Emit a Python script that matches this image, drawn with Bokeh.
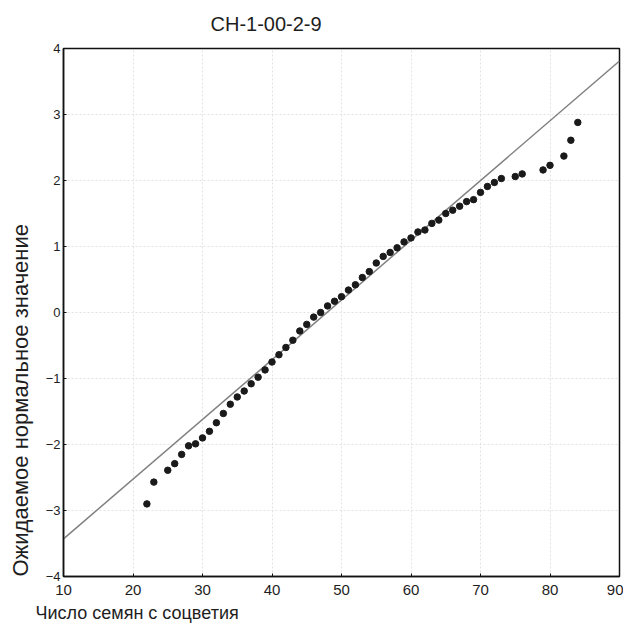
from bokeh.plotting import figure
from bokeh.models import Range1d, LinearAxis, FixedTicker, Title
from bokeh.embed import file_html
from bokeh.resources import INLINE

# Data
seeds = [22, 23, 25, 26, 27, 28, 29, 30, 31, 32, 33, 34, 35, 36, 37, 38, 39, 40,
         41, 42, 43, 44, 45, 46, 47, 48, 49, 50, 51, 52, 53, 54, 55, 56, 57, 58,
         59, 60, 61, 62, 63, 64, 65, 66, 67, 68, 69, 70, 71, 72, 73, 75, 76, 79,
         80, 82, 83, 84]
expected = [-2.90, -2.57, -2.39, -2.29, -2.15, -2.02, -1.99, -1.90, -1.80, -1.67,
            -1.53, -1.39, -1.28, -1.19, -1.08, -0.98, -0.87, -0.75, -0.64, -0.53,
            -0.42, -0.28, -0.18, -0.07, 0.00, 0.10, 0.17, 0.24, 0.34, 0.42,
            0.53, 0.62, 0.75, 0.85, 0.91, 0.98, 1.07, 1.13, 1.22, 1.25,
            1.35, 1.40, 1.50, 1.55, 1.61, 1.68, 1.71, 1.82, 1.91, 1.97,
            2.03, 2.06, 2.10, 2.16, 2.23, 2.37, 2.61, 2.88]
fit_x = [10, 90]
fit_y = [-3.43, 3.81]
x_ticks = [10, 20, 30, 40, 50, 60, 70, 80, 90]
y_ticks = [-4, -3, -2, -1, 0, 1, 2, 3, 4]

title_text = "CH-1-00-2-9"
x_label = "Число семян с соцветия"
y_label = "Ожидаемое нормальное значение"

FONT = "Liberation Sans"
TXT = "#1e1e1e"

p = figure(frame_width=556, frame_height=528,
           x_range=Range1d(10, 90), y_range=Range1d(-4, 4),
           output_backend="svg", toolbar_location=None,
           min_border_left=63, min_border_right=4, min_border_top=48, min_border_bottom=57,
           x_axis_location=None, y_axis_location=None)
p.background_fill_color = "white"
p.border_fill_color = "white"
p.outline_line_color = "#111111"
p.outline_line_width = 1.5

def style_axis(ax):
    ax.axis_line_color = "#111111"
    ax.axis_line_width = 1.5
    ax.major_tick_in = 3
    ax.major_tick_out = 0
    ax.major_tick_line_color = "#111111"
    ax.minor_tick_line_color = None
    ax.major_label_text_font = FONT
    ax.major_label_text_color = TXT

xa = LinearAxis(ticker=FixedTicker(ticks=x_ticks))
ya = LinearAxis(ticker=FixedTicker(ticks=y_ticks))
style_axis(xa)
style_axis(ya)
xa.major_label_text_font_size = "15px"
xa.major_label_standoff = 8
ya.major_label_text_font_size = "13px"
ya.major_label_standoff = 3
p.add_layout(xa, "below")
p.add_layout(ya, "left")

# grid
p.xgrid.ticker = FixedTicker(ticks=x_ticks)
p.ygrid.ticker = FixedTicker(ticks=y_ticks)
for g in (p.xgrid, p.ygrid):
    g.grid_line_color = "#e2e2e2"
    g.grid_line_dash = "2 2"
    g.grid_line_width = 1

# titles / labels
p.add_layout(Title(text=title_text, align="left", offset=147, standoff=23,
                   vertical_align="top", text_font=FONT,
                   text_font_size="20px", text_font_style="normal", text_color=TXT), "above")
p.add_layout(Title(text=x_label, align="left", offset=-28, standoff=6,
                   vertical_align="bottom", text_font=FONT,
                   text_font_size="18px", text_font_style="normal", text_color=TXT), "below")
p.add_layout(Title(text=y_label, align="left", offset=0, standoff=15,
                   vertical_align="top", text_font=FONT,
                   text_font_size="22px", text_font_style="normal", text_color=TXT), "left")

# fitted line and points
p.line(fit_x, fit_y, line_color="#808080", line_width=1.5)
p.scatter(seeds, expected, size=6.5, fill_color="#1a1a1a", line_color="#1a1a1a")

open("out.html", "w").write(file_html(p, INLINE))
